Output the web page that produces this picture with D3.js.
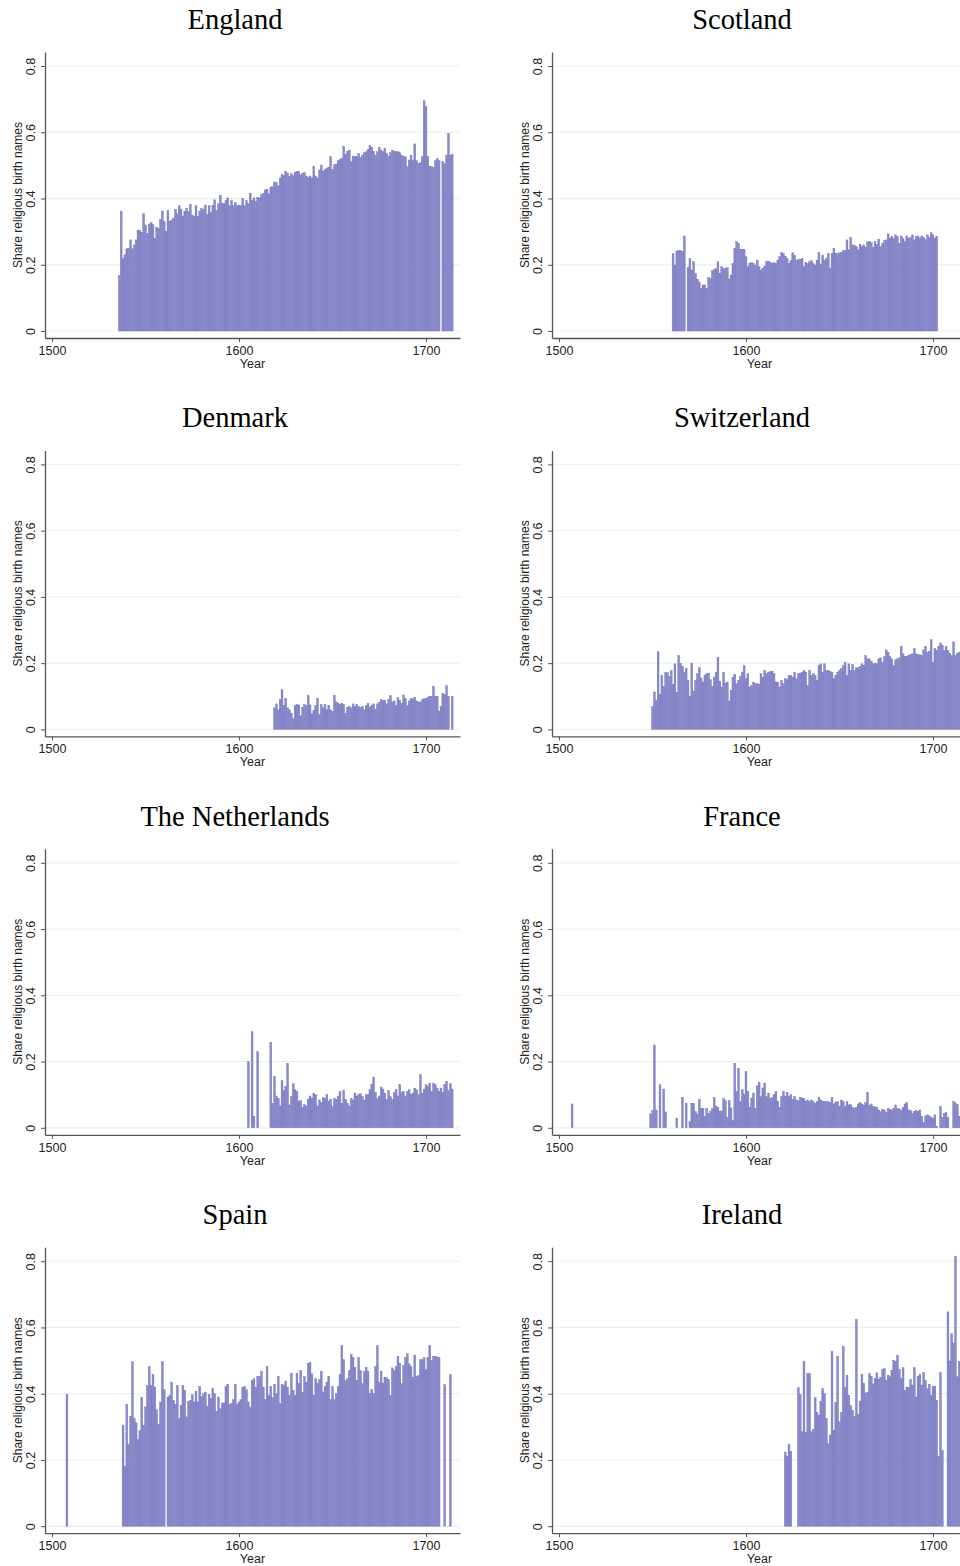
<!DOCTYPE html>
<html>
<head>
<meta charset="utf-8">
<script src="https://cdn.jsdelivr.net/npm/d3@7"></script>
<style>
  body { margin: 0; background: #fff; }
</style>
</head>
<body>
<div id="chart"></div>
<script>
// data: each run = [first year, yearly shares], null = no bar that year
const englandRuns = [
  [1536, [.168,.362,.218,.23,.248,.25,.275,.248,.26,.275,
          .305,.303,.297,.354,.32,.295,.323,.327,.321,.279,
          .313,.309,.337,.362,.33,.301,.364,.33,.335,.341,
          .368,.354,.378,.368,.347,.362,.37,.36,.382,.35,
          .347,.378,.347,.362,.37,.368,.38,.352,.378,.358,
          .38,.396,.364,.384,.41,.386,.384,.394,.402,.378,
          .394,.378,.388,.378,.38,.378,.4,.378,.394,.384,
          .416,.394,.402,.392,.404,.402,.412,.416,.426,.428,
          .414,.434,.436,.45,.448,.438,.462,.473,.469,.481,
          .477,.467,.475,.469,.479,
          .481,.481,.471,.476,.478,.468,.464,.468,.462,.496,
          .468,.462,.486,.501,.483,.488,.492,.494,.526,.488,
          .502,.504,.514,.518,.521,.558,.534,.543,.546,.511,
          .528,.526,.526,.536,.524,.531,.538,.541,.548,.561,
          .554,.543,.531,.541,.554,.546,.541,.551,.536,.528,
          .538,.546,.543,.541,.541,.538,.531,.528,.526,.496,
          .516,.531,.514,.565,.514,.506,.508,.526,.695,.677,
          .526,.496,.496,.494,.514,.521,.514,null,.511,.506,
          .531,.597,.531,.534]]
];

const scotlandRuns = [
  [1561, [.234,.199,.24,.243,.243,.24,.287,null,
          .192,.219,.184,.209,.174,.156,.148,.129,.139,.139,.129,.162,.159,.182,.185,
          .189,.209,.174,.194,.189,.189,.191,.157,.169,.204,.250,.270,.265,.247,.247,
          .247,.224,.194,.204,.206,.204,.199,.214,.194,.184,.189,.196,.209,.211,.208,
          .204,.206,.204,.214,.224,.237,.234,.226,.219,.204,.212,.236,.229,.214,.216,
          .217,.219,.194,.206,.204,.209,.212,.204,.199,.214,.237,.202,.229,.214,.22,
          .234,.189,.234,.250,.234,.234,.236,.238,.243,.243,.275,.245,.283,.260,.258,
          .255,.245,.262,.255,.260,.253,.269,.270,.267,.253,.270,.262,.277,.255,.265,
          .273,.275,.293,.280,.285,.280,.290,.285,.265,.287,.280,.270,.287,.280,.283,
          .290,.275,.285,.287,.280,.287,.283,.277,.290,.283,.297,.290,.280,.285]]
];

const denmarkRuns = [
  [1619, [.065,.077,.059,.090,.120,.072,.093,.065,.059,.049,
          .032,.072,.075,.074,.042,.067,.075,.072,.103,.074,
          .047,.057,.072,.093,.045,.075,.065,.075,.059,.072,
          .059,.055,.103,.083,.079,.075,.079,.075,.049,.067,
          .069,.065,.077,.069,.075,.069,.067,.069,.059,.072,
          .079,.067,.072,.077,.061,.077,.082,.090,.088,.088,
          .077,.090,.102,.083,.086,.072,.096,.088,.079,
          .104,.093,.072,.086,.093,.092,.096,.086,.083,.083,
          .090,.093,.093,.096,.100,.100,.130,.100,.100,.055,
          .069,.108,.106,.132,.100,null,.100]]
];

const switzerlandRuns = [
  [1550, [.069,.113,.088,.235,.106,.163,.130,.171,.171,.160,.178,.136,.198,.112,.223,.2,
          .190,.173,.185,.148,.100,.200,.116,.148,.168,.186,.155,.143,.163,.168,.170,.15,
          .130,.158,.173,.218,.146,.128,.173,.140,.143,.086,.118,.158,.166,.138,.148,.16,
          .173,.193,.153,.168,.128,.133,.143,.138,.138,.136,.168,.156,.178,.168,.173,.175,
          .176,.168,.143,.143,.128,.148,.138,.153,.150,.163,.163,.158,.173,.153,.168,.17,
          .173,.178,.173,.133,.178,.163,.168,.163,.148,.193,.198,.173,.198,.178,.178,.175,
          .173,.153,.163,.173,.178,.183,.193,.203,.163,.198,.178,.196,.178,.186,.186,.19,
          .198,.193,.223,.213,.213,.206,.198,.200,.198,.213,.216,.203,.220,.240,.233,.22,
          .213,.193,.210,.213,.216,.251,.228,.220,.220,.223,.226,.228,.244,.228,.226,.225,
          .223,.240,.251,.233,.236,.271,.203,.244,.238,.251,.261,.254,.238,.251,.238,.23,
          .223,.264,.223,.230,.233]]
];

const netherlandsRuns = [
  [1605, [.20,null,.29,.035,null,.23,null,null,null,null,null,null,
          .257,.074,.155,.096,.089,.066,.142,.113,.125,.195,.069,.094,.133,.115,.110,.080,.082,.062,.07,
          .066,.087,.096,.089,.103,.100,.066,.084,.076,.092,.089,.100,.080,.086,.064,.089,.086,.095,
          .110,.074,.113,.086,.074,.066,.089,.084,.105,.096,.100,.103,.094,.084,.100,.100,.115,.13,
          .153,.107,.089,.096,.123,.117,.105,.086,.113,.094,.086,.107,.115,.096,.130,.107,.110,.096,.11,
          .115,.100,.105,.120,.115,.100,.160,.105,.117,.130,.125,.135,.110,.135,.130,.120,.110,.120,
          .107,.130,.140,.113,.133,.117]]
];

const franceRuns = [
  [1507, [.072]],
  [1549, [.042,.052,.250,.054,null,.130,null,.117,.048,null,null,null,null,null,
          .029,null,null,.092,null,.074,null,.019,
          .074,.074,.049,.042,.086,.059,.059,.034,.059,.044,.05,
          .058,.092,.066,.062,.049,.051,.088,.082,.032,.082,.06,
          .022,.195,.110,.180,.079,.115,.100,.170,.110,.062,.09,
          .105,.059,.127,.138,.094,.120,.135,.094,.105,.089,.092,.100,.110,.08,
          .062,.094,.110,.096,.107,.094,.100,.086,.094,.084,.082,.092,.09,
          .089,.079,.084,.079,.084,.079,.074,.079,.092,.084,.081,.079,.08,
          .079,.076,.092,.072,.076,.079,.066,.084,.079,.064,.079,.069,.07,
          .062,.059,.062,.072,.076,.072,.069,.076,.107,.068,.072,.064,.063,
          .062,.054,.049,.056,.054,.046,.059,.056,.052,.059,.069,.059,.057,
          .054,.062,.072,.076,.054,.052,.044,.050,.052,.049,.054,.034,
          .016,.036,.039,.036,.032,.029,.039,.004,
          null,.064,.032,.044,.046,.032,null,null,.080,.075,.070,.035]]
];

const spainRuns = [
  [1508, [.398]],
  [1538, [.305,.181,.367,.247,.332,.497,.325,.312,.261,.289,.388,.305,.36,.425,.482,.425,.458,.420,.352,.308,.375,.497,.412,
          null,
          .390,.395,.435,.380,.368,.425,.325,.365,.425,.410,.330,.377,.38,
          .397,.375,.408,.375,.422,.392,.400,.405,.362,.398,.385,.415,.40,
          .347,.390,.355,.372,.372,.422,.428,.368,.370,.382,.428,.368,.375,
          .382,.418,.422,.412,.375,.358,.440,.445,.418,.452,.452,.468,.42,
          .382,.482,.395,.422,.388,.428,.400,.452,.370,.428,.425,.438,.42,
          .395,.462,.410,.395,.462,.430,.470,.405,.452,.435,.492,.495,.46,
          .395,.445,.432,.442,.468,.405,.422,.435,.452,.382,.422,.382,.40,
          .422,.458,.545,.503,.440,.445,.470,.519,.509,.480,.440,.509,.47,
          .430,.468,.480,.468,.400,.412,.400,.482,.545,.435,.468,.432,.45,
          .448,.442,.395,.478,.470,.482,.513,.492,.430,.485,.509,.521,
          .490,.482,.450,.516,.452,.455,.503,.503,.509,.472,.509,.545,.500,.513,.513,.511,.509,
          null,null,.427,null,null,.458]]
];

const irelandRuns = [
  [1621, [.224,.211,.247,.226,null,null,null,
          .418,.398,.285,.498,.282,.461,.461,.285,.292,.388,.343,.335,.377,.415,.40,
          .325,.249,.275,.528,.290,.373,.513,.315,.343,.543,.418,.456,.395,.365,.35,
          .332,.624,.338,.378,.458,.431,.402,.405,.461,.453,.429,.446,.463,.443,.45,
          .473,.476,.441,.456,.451,.471,.501,.498,.516,.473,.446,.479,.410,.418,.42,
          .443,.426,.479,.390,.453,.459,.426,.464,.44,.415,.429,.395,.423,.423,.380,.211,.464,.229,
          null,null,.647,.499,.581,.553,.815,.451,.498]]
];

const countries = ["England", "Scotland", "Denmark", "Switzerland",
                   "The Netherlands", "France", "Spain", "Ireland"];
const countryRuns = [englandRuns, scotlandRuns, denmarkRuns, switzerlandRuns,
                     netherlandsRuns, franceRuns, spainRuns, irelandRuns];
const xTicks = [1500, 1600, 1700];
const yTicks = [0, 0.2, 0.4, 0.6, 0.8];

// const
const width = 960;
const height = 1566;
const colStep = 507;
const rowStep = 398.4;
const barFill = '#8a8acc';
const barEdge = '#7373ba';

// svg
const svg = d3.select('#chart')
  .append('svg')
  .attr('width', width)
  .attr('height', height)
  .style('display', 'block');

// shared scales (panel-local coordinates)
const xBase = d3.scaleLinear().domain([1500, 1700]).range([52, 426]);
const x = d3.scaleLinear()
  .domain([xBase.invert(45), xBase.invert(460)])
  .range([45, 460]);
const yBase = d3.scaleLinear().domain([0, 0.8]).range([331, 66]);
const y = d3.scaleLinear()
  .domain([yBase.invert(338), yBase.invert(52)])
  .range([338, 52]);

function toBars(runs) {
  const out = [];
  runs.forEach(([start, vals]) => {
    vals.forEach((v, i) => { if (v !== null) out.push({ year: start + i, value: v }); });
  });
  return out;
}

countries.forEach((name, i) => {
  const col = i % 2, row = Math.floor(i / 2);
  const g = svg.append('g')
    .attr('transform', `translate(${col * colStep}, ${row * rowStep})`);

  // gridlines
  g.append('g')
    .selectAll('line')
    .data(yTicks)
    .join('line')
    .attr('x1', 46).attr('x2', 460)
    .attr('y1', d => y(d)).attr('y2', d => y(d))
    .attr('stroke', '#e6efef')
    .attr('stroke-width', 1);

  // bars
  g.append('g')
    .selectAll('rect')
    .data(toBars(countryRuns[i]))
    .join('rect')
    .attr('x', d => x(d.year - 0.5))
    .attr('width', d => x(d.year + 0.5) - x(d.year - 0.5))
    .attr('y', d => y(d.value))
    .attr('height', d => y(0) - y(d.value))
    .attr('fill', barFill)
    .attr('stroke', barEdge)
    .attr('stroke-width', 0.4);

  // x axis
  g.append('g')
    .attr('transform', `translate(0, ${y.range()[0]})`)
    .call(d3.axisBottom(x).tickValues(xTicks).tickFormat(d3.format('d'))
      .tickSizeInner(4).tickSizeOuter(0).tickPadding(4))
    .call(a => a.select('.domain').attr('stroke', '#555').attr('stroke-width', 1.3))
    .call(a => a.selectAll('.tick line').attr('stroke', '#555'))
    .call(a => a.selectAll('.tick text')
      .attr('fill', '#222')
      .style('font', '12.5px "Liberation Sans", Arial, sans-serif'));

  // y axis
  g.append('g')
    .attr('transform', `translate(${x.range()[0]}, 0)`)
    .call(d3.axisLeft(y).tickValues(yTicks)
      .tickFormat(d => d === 0 ? '0' : d3.format('.1f')(d))
      .tickSizeInner(4).tickSizeOuter(0))
    .call(a => a.select('.domain').attr('stroke', '#555').attr('stroke-width', 1.3))
    .call(a => a.selectAll('.tick line').attr('stroke', '#555'))
    .call(a => a.selectAll('.tick text')
      .attr('transform', 'rotate(-90)')
      .attr('x', 0).attr('y', -10).attr('dy', 0)
      .attr('text-anchor', 'middle')
      .attr('fill', '#222')
      .style('font', '12.5px "Liberation Sans", Arial, sans-serif'));

  // axis titles
  g.append('text')
    .attr('x', (x.range()[0] + x.range()[1]) / 2)
    .attr('y', 368)
    .attr('text-anchor', 'middle')
    .attr('fill', '#222')
    .style('font', '12.5px "Liberation Sans", Arial, sans-serif')
    .text('Year');

  g.append('text')
    .attr('transform', `translate(22, ${(y.range()[0] + y.range()[1]) / 2}) rotate(-90)`)
    .attr('text-anchor', 'middle')
    .attr('fill', '#222')
    .style('font', '12px "Liberation Sans", Arial, sans-serif')
    .text('Share religious birth names');

  // panel title
  g.append('text')
    .attr('x', 235)
    .attr('y', 29)
    .attr('text-anchor', 'middle')
    .attr('fill', '#000')
    .style('font', '28.5px "Liberation Serif", "Times New Roman", serif')
    .text(name);
});
</script>
</body>
</html>
